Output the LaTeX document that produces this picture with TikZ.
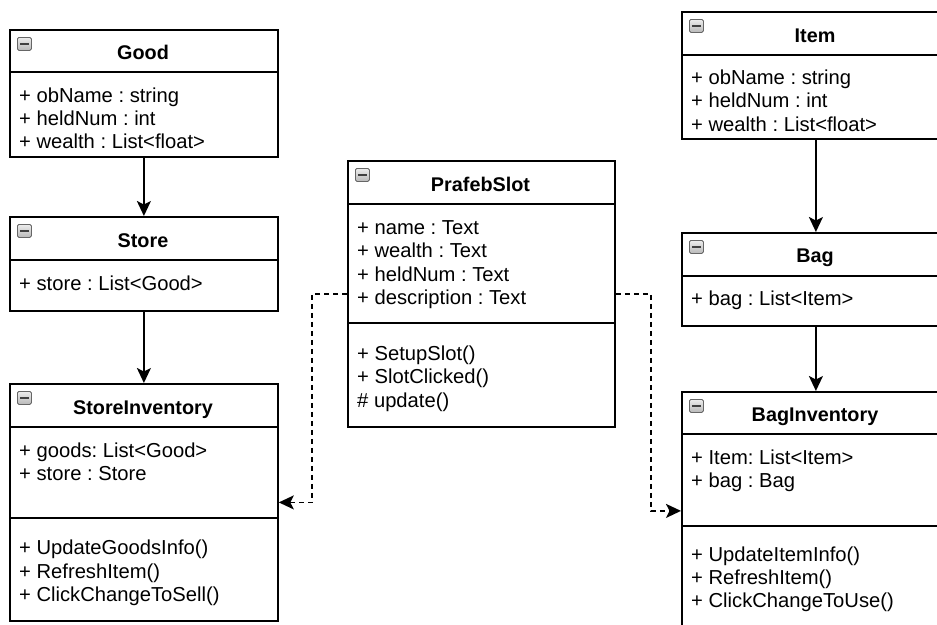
\documentclass[tikz,border=0pt]{standalone}
\usepackage{fontspec}
\setmainfont{Liberation Sans}
\usetikzlibrary{arrows.meta}
\frenchspacing

\tikzset{
  classbox/.style={draw=black, line width=1.8pt, fill=white, anchor=north west, inner sep=0pt, minimum width=268pt},
  divider/.style={draw=black, line width=1.8pt},
  ctitle/.style={anchor=base, inner sep=0pt, font=\fontsize{19.8pt}{23pt}\selectfont\bfseries},
  member/.style={anchor=base west, inner sep=0pt, font=\fontsize{20.2pt}{23pt}\selectfont},
  minusicon/.style={draw=gray!80!black, line width=0.8pt, rounded corners=1.5pt,
    top color=gray!15, bottom color=gray!55, minimum width=14pt, minimum height=13pt,
    inner sep=0pt, anchor=north west,
    path picture={\draw[line width=2.4pt, black!75]
      ([xshift=2.5pt]path picture bounding box.west) -- ([xshift=-2.5pt]path picture bounding box.east);}},
  assoc/.style={draw=black, line width=1.8pt, -{Stealth[length=15pt,width=14pt,inset=3.5pt]}},
  depend/.style={draw=black, line width=1.8pt, dash pattern=on 5pt off 4pt,
    -{Stealth[length=15pt,width=14pt,inset=3.5pt]}}
}

\begin{document}
\begin{tikzpicture}[x=1pt,y=-1pt]
\useasboundingbox (0,0) rectangle (937,624);
\fill[white] (0,0) rectangle (937,624);
\clip (0,0) rectangle (937,624);

% ---------- Good ----------
\node[classbox, minimum height=127pt] (good) at (9,29) {};
\draw[divider] (good.west |- 0,72) -- (good.east |- 0,72);
\node[minusicon] (goodicon) at (17,37) {};
\node[ctitle] (goodt) at (143,59) {Good};
\node[member] (good1) at (19,102) {+ obName : string};
\node[member] (good2) at (19,125) {+ heldNum : int};
\node[member] (good3) at (19,148) {+ wealth : List<float>};

% ---------- Store ----------
\node[classbox, minimum height=94pt] (store) at (9,216) {};
\draw[divider] (store.west |- 0,260) -- (store.east |- 0,260);
\node[minusicon] (storeicon) at (17,224) {};
\node[ctitle] (storet) at (143,247) {Store};
\node[member] (store1) at (19,290) {+ store : List<Good>};

% ---------- StoreInventory ----------
\node[classbox, minimum height=237pt] (sinv) at (9,383) {};
\draw[divider] (sinv.west |- 0,427) -- (sinv.east |- 0,427);
\draw[divider] (sinv.west |- 0,518) -- (sinv.east |- 0,518);
\node[minusicon] (sinvicon) at (17,391) {};
\node[ctitle] (sinvt) at (143,414) {StoreInventory};
\node[member] (sinv1) at (19,457) {+ goods: List<Good>};
\node[member] (sinv2) at (19,480) {+ store : Store};
\node[member] (sinv3) at (19,554) {+ UpdateGoodsInfo()};
\node[member] (sinv4) at (19,578) {+ RefreshItem()};
\node[member] (sinv5) at (19,601) {+ ClickChangeToSell()};

% ---------- PrafebSlot ----------
\node[classbox, minimum width=267pt, minimum height=266pt] (slot) at (347,160) {};
\draw[divider] (slot.west |- 0,204) -- (slot.east |- 0,204);
\draw[divider] (slot.west |- 0,323) -- (slot.east |- 0,323);
\node[minusicon] (sloticon) at (355,168) {};
\node[ctitle] (slott) at (480.5,191) {PrafebSlot};
\node[member] (slot1) at (357,234) {+ name : Text};
\node[member] (slot2) at (357,257) {+ wealth : Text};
\node[member] (slot3) at (357,281) {+ heldNum : Text};
\node[member] (slot4) at (357,304) {+ description : Text};
\node[member] (slot5) at (357,360) {+ SetupSlot()};
\node[member] (slot6) at (357,383) {+ SlotClicked()};
\node[member] (slot7) at (357,407) {\# update()};

% ---------- Item ----------
\node[classbox, minimum height=127pt] (item) at (681,11) {};
\draw[divider] (item.west |- 0,55) -- (item.east |- 0,55);
\node[minusicon] (itemicon) at (689,19) {};
\node[ctitle] (itemt) at (815,42) {Item};
\node[member] (item1) at (691,84) {+ obName : string};
\node[member] (item2) at (691,107) {+ heldNum : int};
\node[member] (item3) at (691,131) {+ wealth : List<float>};

% ---------- Bag ----------
\node[classbox, minimum height=93pt] (bag) at (681,232) {};
\draw[divider] (bag.west |- 0,276) -- (bag.east |- 0,276);
\node[minusicon] (bagicon) at (689,240) {};
\node[ctitle] (bagt) at (815,262) {Bag};
\node[member] (bag1) at (691,305) {+ bag : List<Item>};

% ---------- BagInventory ----------
\node[classbox, minimum height=238pt] (binv) at (681,391) {};
\draw[divider] (binv.west |- 0,434) -- (binv.east |- 0,434);
\draw[divider] (binv.west |- 0,526) -- (binv.east |- 0,526);
\node[minusicon] (binvicon) at (689,399) {};
\node[ctitle] (binvt) at (815,421) {BagInventory};
\node[member] (binv1) at (691,464) {+ Item: List<Item>};
\node[member] (binv2) at (691,487) {+ bag : Bag};
\node[member] (binv3) at (691,561) {+ UpdateItemInfo()};
\node[member] (binv4) at (691,584) {+ RefreshItem()};
\node[member] (binv5) at (691,607) {+ ClickChangeToUse()};

% ---------- connectors ----------
\draw[assoc] (good) -- (store);
\draw[assoc] (store) -- (sinv);
\draw[assoc] (item) -- (bag);
\draw[assoc] (bag) -- (binv);
\draw[depend] (slot.west) -- ++(-35,0) |- (sinv.east);
\draw[depend] (slot.east) -- ++(35,0) |- (binv.west);
\end{tikzpicture}
\end{document}
